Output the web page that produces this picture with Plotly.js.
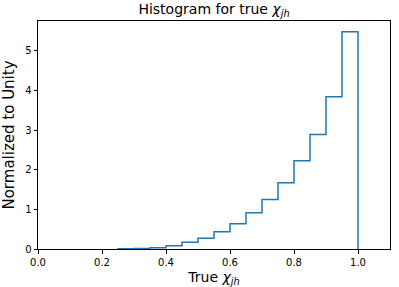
<!DOCTYPE html>
<html>
<head>
<meta charset="utf-8">
<script src="https://cdn.plot.ly/plotly-3.0.1.min.js"></script>
<style>html,body{margin:0;padding:0;background:#fff;}#chart{width:399px;height:287px;}</style>
</head>
<body>
<div id="chart"></div>
<script>
// Bin edges (width 0.05 from 0 to 1) and normalized heights
const binEdges = [0.00,0.05,0.10,0.15,0.20,0.25,0.30,0.35,0.40,0.45,0.50,0.55,0.60,0.65,0.70,0.75,0.80,0.85,0.90,0.95,1.00];
const densities = [0,0,0,0,0,0.005,0.012,0.034,0.084,0.168,0.269,0.437,0.638,0.915,1.251,1.671,2.225,2.888,3.837,5.474];
const xTickVals = [0,0.2,0.4,0.6,0.8,1.0];
const xTickText = ['0.0','0.2','0.4','0.6','0.8','1.0'];
const yTickVals = [0,1,2,3,4,5];

// step outline starting at the first non-empty bin
let first = densities.findIndex(v => v > 0);
if (first < 0) first = 0;
const xs = [binEdges[first]];
const ys = [0];
for (let i = first; i < densities.length; i++) {
  xs.push(binEdges[i]); ys.push(densities[i]);
  xs.push(binEdges[i+1]); ys.push(densities[i]);
}
xs.push(binEdges[binEdges.length-1]); ys.push(0);

const ymax = Math.max(...densities) * 1.05;

const trace = {
  x: xs, y: ys, type: 'scatter', mode: 'lines',
  line: {color: '#1f77b4', width: 1.5, shape: 'linear'},
  hoverinfo: 'skip', showlegend: false
};

const font = {family: 'DejaVu Sans, sans-serif', color: '#000'};
const layout = {
  width: 399, height: 287,
  margin: {l: 38, r: 9, t: 21, b: 38, pad: 0},
  paper_bgcolor: '#fff', plot_bgcolor: '#fff',
  font: Object.assign({size: 10}, font),
  title: {
    text: 'Histogram for true <i>χ<sub>jh</sub></i>',
    font: Object.assign({size: 14}, font),
    x: 0.5, xref: 'paper', xanchor: 'center',
    y: 0.968, yref: 'container', yanchor: 'middle'
  },
  xaxis: {
    range: [0, 1.1], tickvals: xTickVals, ticktext: xTickText,
    ticks: 'outside', ticklen: 3.5, tickwidth: 1, tickcolor: '#000',
    showline: true, linecolor: '#000', linewidth: 1, mirror: true,
    showgrid: false, zeroline: false, layer: 'above traces',
    tickfont: Object.assign({size: 10}, font),
    title: {text: 'True <i>χ<sub>jh</sub></i>', font: Object.assign({size: 14}, font), standoff: 5}
  },
  yaxis: {
    range: [0, ymax], tickvals: yTickVals,
    ticks: 'outside', ticklen: 3.5, tickwidth: 1, tickcolor: '#000',
    showline: true, linecolor: '#000', linewidth: 1, mirror: true,
    showgrid: false, zeroline: false, layer: 'above traces',
    tickfont: Object.assign({size: 10}, font),
    title: {text: 'Normalized to Unity', font: Object.assign({size: 15}, font), standoff: 7}
  }
};

Plotly.newPlot('chart', [trace], layout, {staticPlot: true, displayModeBar: false});
</script>
</body>
</html>
